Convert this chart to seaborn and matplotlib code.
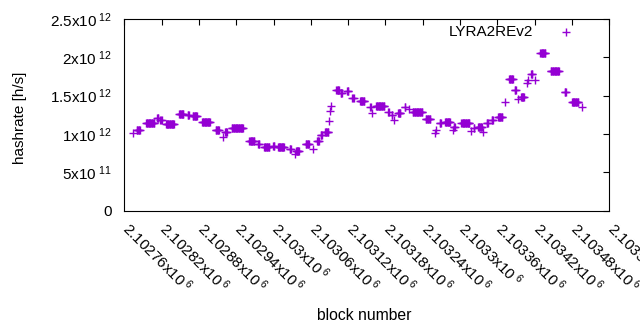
import numpy as np
import pandas as pd
import seaborn as sns
import matplotlib
matplotlib.use("Agg")
import matplotlib.pyplot as plt
from matplotlib.transforms import ScaledTranslation

# Segments of constant hashrate (block ranges, value in units of 1e12 h/s)
seg_start = [2102774, 2102780, 2102795, 2102813, 2102818, 2102827, 2102848, 2102862,
             2102870, 2102885, 2102907, 2102918, 2102922, 2102933, 2102961, 2102975,
             2102985, 2102999, 2103007, 2103026, 2103034, 2103036, 2103052, 2103063,
             2103070, 2103076, 2103083, 2103090, 2103091, 2103092, 2103101, 2103108,
             2103118, 2103127, 2103139, 2103155, 2103158, 2103165, 2103184, 2103190,
             2103194, 2103200, 2103211, 2103218, 2103224, 2103245, 2103260, 2103262,
             2103267, 2103276, 2103289, 2103290, 2103302, 2103318, 2103322, 2103329,
             2103337, 2103343, 2103351, 2103361, 2103372, 2103379, 2103388, 2103393,
             2103398, 2103408, 2103409, 2103414, 2103421, 2103429, 2103446, 2103468,
             2103480, 2103496]
seg_end = [2102774, 2102785, 2102808, 2102815, 2102820, 2102840, 2102855, 2102864,
           2102877, 2102898, 2102912, 2102918, 2102925, 2102951, 2102969, 2102977,
           2102993, 2103001, 2103017, 2103028, 2103034, 2103041, 2103057, 2103063,
           2103073, 2103078, 2103088, 2103090, 2103091, 2103092, 2103105, 2103110,
           2103120, 2103129, 2103146, 2103156, 2103158, 2103178, 2103185, 2103191,
           2103194, 2103204, 2103212, 2103218, 2103239, 2103252, 2103260, 2103262,
           2103269, 2103284, 2103289, 2103292, 2103315, 2103318, 2103323, 2103335,
           2103337, 2103345, 2103353, 2103368, 2103372, 2103385, 2103390, 2103393,
           2103403, 2103408, 2103409, 2103416, 2103421, 2103437, 2103459, 2103470,
           2103490, 2103496]
seg_value = [1.01, 1.05, 1.15, 1.21, 1.18, 1.13, 1.26, 1.25,
             1.235, 1.16, 1.05, 0.955, 1.03, 1.075, 0.915, 0.875,
             0.83, 0.85, 0.83, 0.805, 0.74, 0.775, 0.87, 0.80,
             0.905, 0.99, 1.03, 1.165, 1.295, 1.37, 1.575, 1.535,
             1.555, 1.47, 1.43, 1.35, 1.27, 1.36, 1.285, 1.25,
             1.185, 1.27, 1.35, 1.32, 1.285, 1.19, 1.01, 1.05,
             1.14, 1.155, 1.055, 1.095, 1.14, 1.045, 1.075, 1.09,
             1.02, 1.14, 1.185, 1.22, 1.415, 1.715, 1.575, 1.46,
             1.485, 1.665, 1.70, 1.78, 1.705, 2.055, 1.825, 1.545,
             1.415, 1.35]

x_ticks = [2102760, 2102820, 2102880, 2102940, 2103000, 2103060, 2103120,
           2103180, 2103240, 2103300, 2103360, 2103420, 2103480, 2103540]
x_tick_labels = ["2.10276", "2.10282", "2.10288", "2.10294", "2.103", "2.10306",
                 "2.10312", "2.10318", "2.10324", "2.1033", "2.10336", "2.10342",
                 "2.10348", "2.10354"]
y_ticks = [0, 0.5e12, 1.0e12, 1.5e12, 2.0e12, 2.5e12]
y_tick_labels = ["0", r"5x10$^{\ 11}$", r"1x10$^{\ 12}$", r"1.5x10$^{\ 12}$",
                 r"2x10$^{\ 12}$", r"2.5x10$^{\ 12}$"]

blocks = np.concatenate([np.arange(s, e + 1) for s, e in zip(seg_start, seg_end)])
rates = np.concatenate([np.full(e - s + 1, v) for s, e, v in zip(seg_start, seg_end, seg_value)]) * 1e12
df = pd.DataFrame({"block": blocks, "hashrate": rates})

sns.set_theme(style="white")
plt.rcParams["font.family"] = ["Liberation Sans", "DejaVu Sans"]
plt.rcParams["mathtext.fontset"] = "custom"
plt.rcParams["mathtext.rm"] = "Liberation Sans"
plt.rcParams["mathtext.it"] = "Liberation Sans:italic"
plt.rcParams["mathtext.bf"] = "Liberation Sans:bold"

FS = 11

fig = plt.figure(figsize=(6.4, 3.3), dpi=100)
ax = fig.add_axes([124.3 / 640, 1 - 210.7 / 330, 485 / 640, 191.7 / 330])

sns.scatterplot(data=df, x="block", y="hashrate", marker="+", color="#9400d3",
                s=30, linewidth=1.0, ax=ax, label="LYRA2REv2")

ax.set_xlim(2102760, 2103540)
ax.set_ylim(0, 2.5e12)
ax.set_xticks(x_ticks)
ax.set_xticklabels([lab + r"x10$^{\ 6}$" for lab in x_tick_labels], rotation=-45,
                   ha="left", va="baseline", rotation_mode="anchor", fontsize=FS)
ax.set_yticks(y_ticks)
ax.set_yticklabels(y_tick_labels, fontsize=FS)
ax.tick_params(axis="both", direction="in", top=True, right=True, length=4.5,
               width=0.8, color="black", labelcolor="black")
ax.tick_params(axis="x", pad=0)
ax.tick_params(axis="y", pad=9)
shift = ScaledTranslation(-3.0 / 100, -19.5 / 100, fig.dpi_scale_trans)
for lab in ax.get_xticklabels():
    lab.set_transform(lab.get_transform() + shift)
for sp in ax.spines.values():
    sp.set_color("black")
    sp.set_linewidth(0.8)

ax.set_xlabel("block number", fontsize=11.3, color="black")
ax.set_ylabel("hashrate [h/s]", fontsize=FS, color="black")
ax.xaxis.set_label_coords(0.494, -0.51)
ax.yaxis.set_label_coords(-0.2006, 0.484)

ax.legend(loc="upper right", bbox_to_anchor=(0.9637, 1.0), frameon=False,
          markerfirst=False, handlelength=2.5, handletextpad=0.94, borderaxespad=0.0,
          fontsize=FS, labelcolor="black")

fig.savefig("out.png", dpi=100)
